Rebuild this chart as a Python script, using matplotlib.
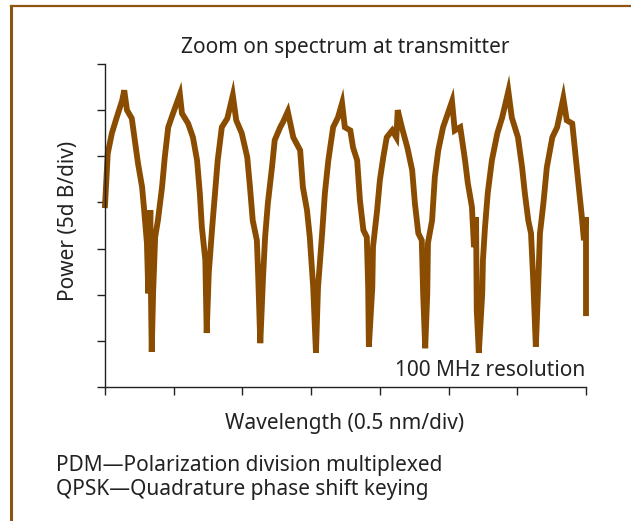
import matplotlib
matplotlib.use("Agg")
import matplotlib.pyplot as plt
from matplotlib.lines import Line2D

# Wavelength in divisions (0.5 nm/div), power in divisions (5 dB/div)
wavelength_div = [
    0.00, 0.04, 0.10, 0.17, 0.25, 0.28, 0.32, 0.39, 0.44, 0.48, 0.54, 0.57, 0.61, 0.63, 0.66, 0.67, 0.68, 0.70, 0.73, 0.77,
    0.83, 0.87, 0.92, 0.99, 1.09, 1.12, 1.21, 1.28, 1.34, 1.38, 1.41, 1.46, 1.48, 1.51, 1.56, 1.60, 1.64, 1.70, 1.78, 1.86,
    1.91, 1.99, 2.07, 2.11, 2.15, 2.21, 2.23, 2.26, 2.30, 2.33, 2.37, 2.43, 2.47, 2.55, 2.59, 2.66, 2.74, 2.84, 2.88, 2.94,
    2.98, 3.03, 3.07, 3.10, 3.16, 3.20, 3.25, 3.32, 3.39, 3.45, 3.49, 3.57, 3.61, 3.67, 3.71, 3.76, 3.81, 3.83, 3.84, 3.89,
    3.90, 3.96, 4.00, 4.05, 4.10, 4.18, 4.24, 4.26, 4.32, 4.40, 4.47, 4.51, 4.56, 4.61, 4.63, 4.66, 4.69, 4.70, 4.76, 4.80,
    4.85, 4.92, 5.05, 5.09, 5.17, 5.24, 5.28, 5.34, 5.37, 5.40, 5.41, 5.44, 5.49, 5.50, 5.53, 5.57, 5.63, 5.71, 5.78, 5.87,
    5.92, 6.01, 6.07, 6.11, 6.16, 6.20, 6.23, 6.27, 6.30, 6.33, 6.38, 6.43, 6.51, 6.58, 6.67, 6.72, 6.80, 6.84, 6.89, 6.94,
    6.97, 7.00, 7.00,
]
power_div = [
    3.94, 5.06, 5.50, 5.84, 6.21, 6.43, 6.00, 5.82, 5.28, 4.85, 4.33, 3.83, 3.12, 2.03, 3.83, 1.88, 0.76, 2.03, 3.25, 3.61,
    4.33, 4.98, 5.63, 5.93, 6.34, 5.93, 5.71, 5.41, 4.91, 4.20, 3.46, 2.75, 1.17, 2.47, 3.46, 4.20, 4.91, 5.63, 5.82, 6.32,
    5.78, 5.50, 4.98, 4.33, 3.61, 3.18, 2.38, 0.95, 2.38, 3.25, 3.98, 4.76, 5.35, 5.63, 5.74, 5.97, 5.41, 5.13, 4.33, 3.83,
    3.25, 2.16, 0.74, 2.16, 3.33, 4.20, 4.91, 5.63, 5.84, 6.15, 5.63, 5.56, 5.19, 4.91, 4.05, 3.40, 3.25, 2.16, 0.87, 2.16,
    3.03, 3.83, 4.48, 4.98, 5.41, 5.56, 5.41, 6.00, 5.63, 5.19, 4.70, 3.98, 3.33, 3.18, 2.03, 0.84, 2.03, 3.12, 3.61, 4.55,
    5.13, 5.63, 6.19, 5.56, 5.63, 4.91, 4.42, 3.90, 3.03, 3.68, 1.67, 0.74, 2.03, 2.75, 3.46, 4.20, 4.91, 5.50, 5.84, 6.41,
    5.84, 5.41, 4.76, 4.20, 3.61, 3.33, 2.38, 0.87, 2.03, 3.33, 3.98, 4.76, 5.41, 5.63, 6.26, 5.78, 5.71, 5.13, 4.42, 3.68,
    3.18, 3.68, 1.60,
]
x_ticks = [0, 1, 2, 3, 4, 5, 6, 7]
y_ticks = [0, 1, 2, 3, 4, 5, 6, 7]

title = "Zoom on spectrum at transmitter"
xlabel = "Wavelength (0.5 nm/div)"
ylabel = "Power (5d B/div)"
note = "100 MHz resolution"
footnotes = ["PDM\u2014Polarization division multiplexed",
             "QPSK\u2014Quadrature phase shift keying"]

W, H = 631, 521
plt.rcParams['font.family'] = ['Noto Sans', 'DejaVu Sans']
fig = plt.figure(figsize=(W / 100, H / 100), dpi=100)

def fx(px):
    return px / W

def fy(py):
    return 1 - py / H

ax = fig.add_axes([fx(105), fy(387), fx(586) - fx(105), fy(64) - fy(387)])
line_color = "#8A4C00"
ax.plot(wavelength_div, power_div, color=line_color, lw=4.2, solid_joinstyle="miter",
        clip_on=False)
ax.set_xlim(0, 7)
ax.set_ylim(0, 7)
ax.set_xticks(x_ticks)
ax.set_yticks(y_ticks)
ax.set_xticklabels([])
ax.set_yticklabels([])
ax.tick_params(axis="x", direction="out", length=6, width=1, color="#222222")
ax.tick_params(axis="y", direction="out", length=6, width=1, color="#222222")
for s in ["top", "right"]:
    ax.spines[s].set_visible(False)
for s in ["left", "bottom"]:
    ax.spines[s].set_color("#222222")
    ax.spines[s].set_linewidth(1)

txt = "#222222"
fs = 15
fig.text(fx(345), fy(47), title, ha="center", va="center", fontsize=fs, color=txt)
fig.text(fx(345), fy(424), xlabel, ha="center", va="center", fontsize=fs, color=txt)
fig.text(fx(68.5), fy(221), ylabel, ha="center", va="center", rotation=90, fontsize=fs, color=txt)
fig.text(fx(585), fy(371), note, ha="right", va="center", fontsize=fs, color=txt)
fig.text(fx(56), fy(466), footnotes[0], ha="left", va="center", fontsize=fs, color=txt)
fig.text(fx(56), fy(490), footnotes[1], ha="left", va="center", fontsize=fs, color=txt)

border = "#8E5512"
fig.add_artist(Line2D([fx(10.5), fx(10.5)], [0, fy(6)], color=border, lw=2.2, transform=fig.transFigure,
                      solid_capstyle="projecting"))
fig.add_artist(Line2D([fx(10.5), 1], [fy(6), fy(6)], color=border, lw=1.6, transform=fig.transFigure,
                      solid_capstyle="projecting"))

fig.savefig("out.png", dpi=100)
